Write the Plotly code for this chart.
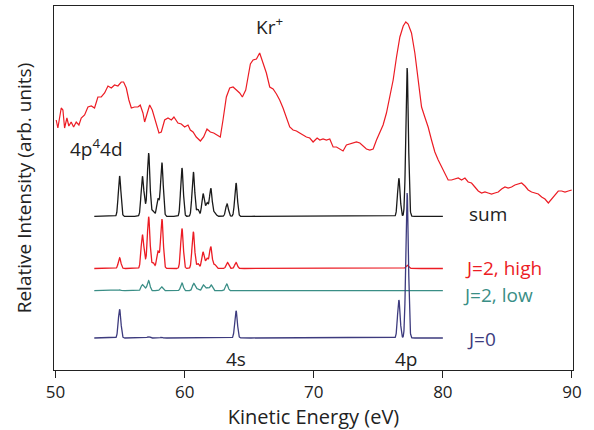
import numpy as np
import plotly.graph_objects as go

# ---- measured photoelectron spectrum (kinetic energy in eV, intensity in arb. units)
exp_energy = [
    50.05, 50.18, 50.44, 50.57, 50.70, 50.88, 51.03, 51.21, 51.40, 51.60, 51.81, 51.99,
    52.25, 52.51, 52.77, 53.02, 53.28, 53.54, 53.80, 54.06, 54.32, 54.57, 54.83, 55.09,
    55.27, 55.48, 55.68, 55.87, 56.12, 56.38, 56.56, 56.77, 56.90, 57.08, 57.29, 57.49,
    57.75, 58.01, 58.19, 58.45, 58.71, 58.97, 59.17, 59.48, 59.74, 60.00, 60.26, 60.44,
    60.65, 60.90, 61.22, 61.47, 61.73, 61.99, 62.25, 62.51, 62.76, 62.97, 63.23, 63.49,
    63.75, 64.01, 64.26, 64.47, 64.73, 64.91, 65.09, 65.30, 65.56, 65.81, 66.07, 66.33,
    66.59, 66.85, 67.11, 67.36, 67.62, 67.88, 68.14, 68.40, 68.66, 68.91, 69.17, 69.43,
    69.69, 69.95, 70.26, 70.47, 70.72, 70.98, 71.24, 71.50, 71.76, 72.02, 72.27, 72.53,
    72.79, 73.05, 73.31, 73.57, 73.82, 74.08, 74.34, 74.60, 74.86, 75.12, 75.37, 75.63,
    75.89, 76.15, 76.41, 76.67, 76.93, 77.13, 77.31, 77.57, 77.83, 78.09, 78.35, 78.60,
    78.86, 79.12, 79.38, 79.64, 79.90, 80.16, 80.41, 80.67, 80.93, 81.19, 81.45, 81.71,
    81.96, 82.22, 82.48, 82.74, 83.00, 83.26, 83.51, 83.77, 84.03, 84.29, 84.55, 84.81,
    85.06, 85.32, 85.58, 85.84, 86.10, 86.36, 86.61, 86.87, 87.13, 87.39, 87.65, 87.91,
    88.17, 88.42, 88.68, 88.94, 89.20, 89.46, 89.72, 89.98,
]
exp_intensity = [
    250, 242, 262, 260, 242, 252, 244, 248, 243, 248, 245, 252,
    255, 263, 264, 262, 273, 273, 277, 284, 282, 285, 284, 288,
    288, 282, 270, 262, 263, 263, 265, 257, 248, 257, 265, 260,
    247, 237, 238, 250, 252, 250, 253, 247, 246, 243, 245, 240,
    238, 233, 229, 233, 241, 238, 237, 235, 233, 250, 273, 282,
    283, 280, 277, 273, 280, 293, 306, 310, 311, 317, 307, 297,
    283, 281, 276, 270, 262, 253, 243, 240, 239, 237, 235, 233,
    232, 228, 232, 230, 231, 230, 231, 223, 223, 221, 219, 225,
    226, 227, 228, 227, 224, 221, 220, 221, 230, 237, 245, 257,
    273, 290, 313, 333, 344, 348, 346, 337, 317, 290, 263, 253,
    243, 230, 218, 210, 203, 195, 190, 190, 191, 192, 190, 192,
    188, 187, 183, 179, 177, 178, 177, 176, 177, 178, 181, 183,
    182, 183, 185, 186, 187, 184, 180, 178, 177, 176, 173, 171,
    167, 171, 175, 179, 179, 178, 179, 180,
]

# ---- calculated line lists (line energy in eV, line intensity in arb. units)
j2_high_energy = [54.96, 56.72, 56.90, 57.21, 57.55, 57.93, 58.24, 59.79, 60.67, 61.03,
                  61.42, 61.73, 62.02, 62.33, 63.31, 63.98, 77.23]
j2_high_intensity = [10.7, 32.3, 7.0, 51.7, 6.0, 17.0, 49.3, 40.0, 36.7, 5.0,
                     16.5, 10.0, 21.7, 4.0, 6.0, 6.0, 3.3]

j2_low_energy = [54.96, 56.72, 56.95, 57.21, 58.20, 59.79, 60.70, 61.00, 61.45, 61.75,
                 62.05, 63.26]
j2_low_intensity = [0.8, 6.0, 2.0, 10.0, 4.0, 7.7, 7.3, 2.0, 5.7, 3.0,
                    5.7, 6.7]

j0_energy = [54.96, 57.20, 58.20, 59.80, 60.70, 61.50, 62.00, 63.98, 76.59, 77.23]
j0_intensity = [28.7, 1.3, 0.6, 0.6, 0.6, 0.6, 0.6, 27.3, 38.0, 145.0]

x_ticks = [50, 60, 70, 80, 90]

# ---- plotting setup
line_width_ev = 0.1            # Gaussian sigma of the calculated lines
grid = np.linspace(53.0, 80.0, 2701)

offset_sum = 153.7
offset_high = 101.5
offset_low = 79.3
offset_j0 = 32.0

RED = "#EC1C24"
TEAL = "#3A8E86"
NAVY = "#3D3B7E"
BLACK = "#1a1a1a"
INK = "#222222"
FONT = "Open Sans"


def broaden(energies, intensities):
    e = np.asarray(energies)[:, None]
    h = np.asarray(intensities)[:, None]
    return (h * np.exp(-(grid[None, :] - e) ** 2 / (2 * line_width_ev ** 2))).sum(axis=0)


high = broaden(j2_high_energy, j2_high_intensity)
low = broaden(j2_low_energy, j2_low_intensity)
j0 = broaden(j0_energy, j0_intensity)
total = high + low + j0

fig = go.Figure()
fig.add_trace(go.Scatter(x=exp_energy, y=exp_intensity, mode="lines",
                         line=dict(color=RED, width=1.2), name="Kr+"))
fig.add_trace(go.Scatter(x=grid, y=total + offset_sum, mode="lines",
                         line=dict(color=BLACK, width=1.3), name="sum"))
fig.add_trace(go.Scatter(x=grid, y=high + offset_high, mode="lines",
                         line=dict(color=RED, width=1.3), name="J=2, high"))
fig.add_trace(go.Scatter(x=grid, y=low + offset_low, mode="lines",
                         line=dict(color=TEAL, width=1.3), name="J=2, low"))
fig.add_trace(go.Scatter(x=grid, y=j0 + offset_j0, mode="lines",
                         line=dict(color=NAVY, width=1.3), name="J=0"))

labels = [
    ("Kr<sup>+</sup>", 65.40, 344, "left", INK),
    ("4p<sup>4</sup>4d", 51.00, 222, "left", INK),
    ("sum", 81.87, 156, "left", INK),
    ("J=2, high", 81.56, 102, "left", RED),
    ("J=2, low", 81.41, 75, "left", TEAL),
    ("J=0", 81.72, 31.5, "left", NAVY),
    ("4s", 63.98, 11, "center", INK),
    ("4p", 77.22, 11, "center", INK),
]
for text, x, y, anchor, color in labels:
    fig.add_annotation(x=x, y=y, text=text, showarrow=False, xanchor=anchor,
                       yanchor="middle", font=dict(family=FONT, size=19, color=color))

fig.update_layout(
    width=594, height=430,
    margin=dict(l=54, r=21, t=6, b=60),
    paper_bgcolor="white", plot_bgcolor="white",
    showlegend=False,
    font=dict(family=FONT, color=INK),
)
fig.update_xaxes(
    range=[49.88, 90.08], tickvals=x_ticks, ticktext=[str(t) for t in x_ticks],
    ticks="outside", ticklen=7, tickcolor=INK, tickfont=dict(size=17),
    showline=True, linecolor=INK, linewidth=1, mirror=True,
    showgrid=False, zeroline=False,
    title=dict(text="Kinetic Energy (eV)", font=dict(size=20), standoff=3),
)
fig.update_yaxes(
    range=[0, 364], showticklabels=False, ticks="",
    showline=True, linecolor=INK, linewidth=1, mirror=True,
    showgrid=False, zeroline=False,
    title=dict(text="Relative Intensity (arb. units)", font=dict(size=19), standoff=16),
)

fig.write_html("out.html")
